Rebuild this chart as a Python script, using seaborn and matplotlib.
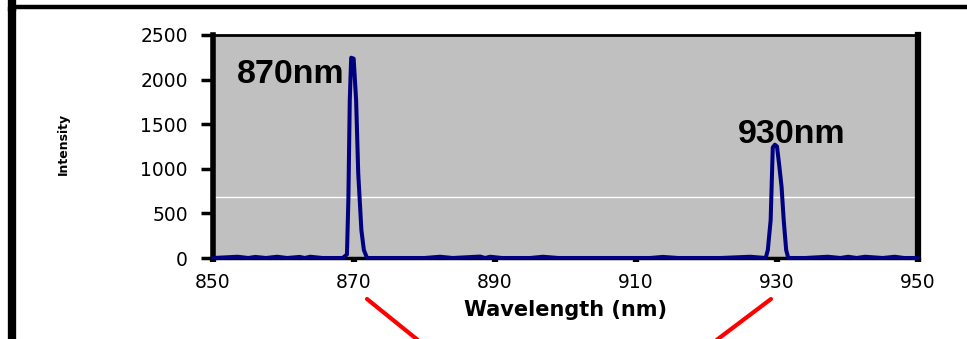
import matplotlib
matplotlib.use("Agg")
import numpy as np
import pandas as pd
import matplotlib.pyplot as plt
import seaborn as sns
from matplotlib.lines import Line2D

# ---- data ----
wavelength_nm = [850, 853.5, 855, 856, 857.5, 859.1, 860.5, 862.3, 863.0, 863.8, 865.5,
                 868.4, 869.0, 869.2, 869.4, 869.6, 869.95, 870.3, 870.6, 871.05, 871.4,
                 871.85, 876, 880, 882.2, 884, 887.9, 888.6, 889.3, 891, 895, 896.8, 899,
                 905, 912, 913.8, 916, 922, 926.2, 928.4, 928.7, 929.1, 929.4, 929.7,
                 930.0, 930.3, 930.65, 930.95, 931.3, 931.6, 934, 937.2, 939, 940.1,
                 941.3, 942.5, 945, 946.7, 948, 950]
intensity = [0, 14, 0, 12, 0, 14, 0, 12, 0, 14, 0,
             0, 40, 650, 1770, 2245, 2235, 1770, 950, 310, 90,
             0, 0, 0, 14, 0, 16, 0, 14, 0, 0, 14, 0,
             0, 0, 12, 0, 0, 14, 0, 90, 426, 1240, 1270,
             1250, 1050, 796, 426, 90, 0, 0, 14, 0, 14,
             0, 14, 0, 14, 0, 0]

x_ticks = [850, 870, 890, 910, 930, 950]
y_ticks = [0, 500, 1000, 1500, 2000, 2500]
peak_labels = ["870nm", "930nm"]
peak_label_x = [853.4, 924.5]
peak_label_y = [1960, 1285]
white_line_value = 685
x_label = "Wavelength (nm)"
y_label = "Intensity"

sns.set_theme(style="white")
plt.rcParams['font.family'] = ['DejaVu Sans']

W, H = 967, 339
fig = plt.figure(figsize=(W / 100, H / 100), dpi=100)
fig.patch.set_facecolor('white')
ax = fig.add_axes([213 / W, 1 - 258 / H, 705 / W, 223 / H])
ax.set_facecolor('#c0c0c0')

ax.axhline(white_line_value, color='white', lw=1.0, zorder=1)

df = pd.DataFrame({'Wavelength': wavelength_nm, 'Intensity': intensity})
sns.lineplot(data=df, x='Wavelength', y='Intensity', ax=ax, color='#000080',
             lw=2.9, clip_on=False, zorder=6, legend=False)

ax.set_xlim(850, 950)
ax.set_ylim(0, 2500)
ax.set_xticks(x_ticks)
ax.set_yticks(y_ticks)
ax.set_xticklabels([str(v) for v in x_ticks])
ax.set_yticklabels([str(v) for v in y_ticks])
ax.set_xlabel("")
ax.set_ylabel("")
ax.grid(False)

for side, lw in [('left', 4.0), ('right', 4.5), ('top', 2.0), ('bottom', 2.5)]:
    ax.spines[side].set_visible(True)
    ax.spines[side].set_color('black')
    ax.spines[side].set_linewidth(lw)
    ax.spines[side].set_zorder(5)

ax.tick_params(axis='y', direction='out', length=9, width=2.5, color='black',
               pad=9, labelsize=13.5, labelcolor='black', left=True)
ax.tick_params(axis='x', direction='out', length=3, width=4.5, color='black',
               pad=8, labelsize=13.5, labelcolor='black', bottom=True)

for lab, lx, ly in zip(peak_labels, peak_label_x, peak_label_y):
    ax.text(lx, ly, lab, fontsize=24.5, fontweight='bold', family=['Liberation Sans', 'DejaVu Sans'],
            ha='left', va='baseline', color='black', zorder=7)

fig.text(565 / W, 1 - 310 / H, x_label, fontsize=15, fontweight='bold',
         ha='center', va='center', color='black')
fig.text(63 / W, 1 - 144 / H, y_label, fontsize=9, fontweight='bold', rotation=90,
         ha='center', va='center', color='black')

# outer slide frame
fig.add_artist(Line2D([12 / W, 12 / W], [1 + 10 / H, 1 - 7 / H], transform=fig.transFigure,
                      color='black', lw=6, solid_capstyle='projecting'))
fig.add_artist(Line2D([12 / W, 1 + 10 / W], [1 - 7 / H, 1 - 7 / H], transform=fig.transFigure,
                      color='black', lw=3.2, solid_capstyle='projecting'))
fig.add_artist(Line2D([12 / W, 12 / W], [1 - 7 / H, -10 / H], transform=fig.transFigure,
                      color='black', lw=6, solid_capstyle='butt'))

# red callout lines
fig.add_artist(Line2D([367 / W, 424 / W], [1 - 299 / H, 1 - 345 / H], transform=fig.transFigure,
                      color='#ff0000', lw=3))
fig.add_artist(Line2D([771 / W, 710 / W], [1 - 299 / H, 1 - 345 / H], transform=fig.transFigure,
                      color='#ff0000', lw=3))

fig.savefig('out.png', dpi=100)
